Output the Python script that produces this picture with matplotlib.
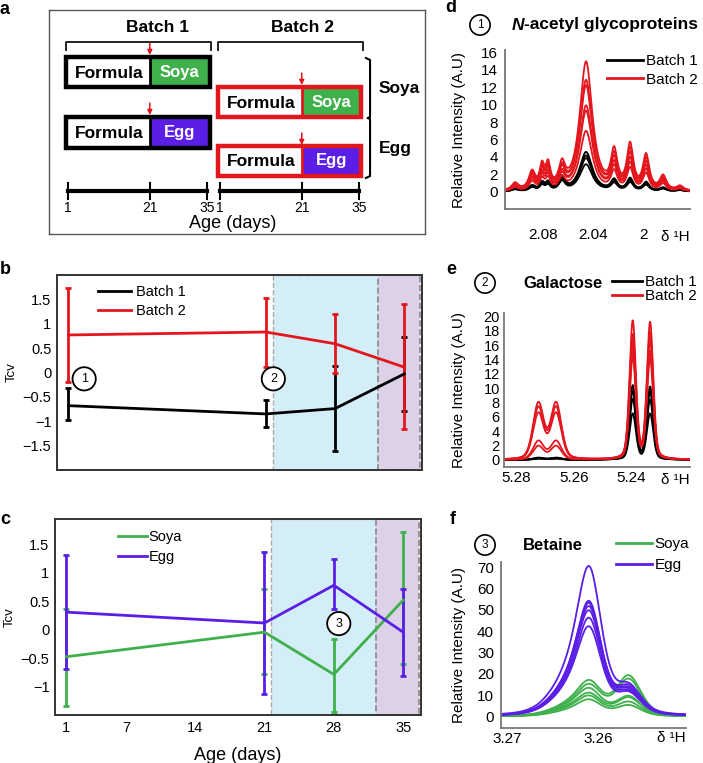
import numpy as np
import matplotlib
matplotlib.use("Agg")
import matplotlib.pyplot as plt
from matplotlib.patches import Rectangle
from matplotlib.lines import Line2D

plt.rcParams['font.family'] = ['Liberation Sans', 'DejaVu Sans']
plt.rcParams['axes.unicode_minus'] = True

W, H = 703, 763
RED = '#e3161d'
GREEN = '#3fb04c'
PURPLE = '#5a1ee6'

# ---- data ----
days = [1, 21, 28, 35]
c_ticks = [1, 7, 14, 21, 28, 35]

batch1_mean = [-0.68, -0.85, -0.74, -0.03]
batch1_lo = [-0.98, -1.12, -1.62, -0.78]
batch1_hi = [-0.31, -0.57, 0.13, 0.73]
batch2_mean = [0.77, 0.83, 0.59, 0.11]
batch2_lo = [-0.20, 0.11, -0.01, -1.16]
batch2_hi = [1.73, 1.52, 1.21, 1.40]

soya_mean = [-0.47, -0.04, -0.78, 0.52]
soya_lo = [-1.34, -0.78, -1.44, -0.59]
soya_hi = [0.37, 0.71, -0.16, 1.72]
egg_mean = [0.31, 0.12, 0.78, -0.04]
egg_lo = [-0.69, -1.13, 0.36, -0.81]
egg_hi = [1.31, 1.37, 1.24, 0.71]

diet_window = [21.7, 32.3]
late_window = [32.3, 36.6]

# spectra: peak centres (ppm), half widths, heights per spectrum
d_centers = [2.102, 2.0885, 2.0806, 2.0758, 2.0647, 2.0456, 2.0233, 2.0106, 1.9979, 1.9844, 1.971]
d_hwhm = [0.003, 0.003, 0.0022, 0.0022, 0.003, 0.006, 0.003, 0.003, 0.003, 0.003, 0.003]
d_batch2_side = [0.8, 2.0, 2.5, 2.6, 2.5, 0.0, 4.1, 5.0, 3.9, 1.6, 0.5]
d_batch2_main = [14.8, 12.7, 12.1, 9.8, 9.2, 6.9]
d_batch2_scale = [1.0, 0.9, 0.8, 0.7, 0.6, 0.5]
d_batch1_side = [0.3, 0.6, 0.9, 0.9, 1.5, 0.0, 1.2, 1.4, 1.0, 0.4, 0.2]
d_batch1_main = [4.5, 4.1, 3.8, 3.1]
d_batch1_scale = [1.0, 0.9, 0.8, 0.7]

e_centers = [5.2722, 5.2661, 5.2396, 5.2336]
e_hwhm = [0.0022, 0.0022, 0.0013, 0.0013]
e_batch2 = [[7.8, 7.8, 19.2, 19.0], [7.2, 7.2, 17.3, 17.6], [6.4, 6.4, 16.2, 16.4],
            [2.6, 2.6, 15.2, 15.0], [1.9, 1.9, 14.2, 14.0]]
e_batch1 = [[0.3, 0.3, 10.3, 10.1], [0.25, 0.25, 9.5, 9.4], [0.2, 0.2, 8.4, 8.3], [0.15, 0.15, 6.4, 6.4]]

f_centers = [3.2635, 3.2610, 3.2567]
f_hwhm = [0.0022, 0.0016, 0.0016]
f_egg = [[14, 64, 12], [11, 49, 11], [11, 48, 12], [10, 47, 10.5], [10, 45, 11], [9, 42, 10], [9, 38, 9.5]]
f_soya = [[4, 14.5, 18.5], [3.5, 13, 17], [3.5, 11.5, 9], [3, 9.5, 8.5], [2.5, 8.5, 6.5], [2, 7, 5]]


def voigt(x, centers, hwhm, heights, eta=0.6):
    y = np.zeros_like(x)
    for c, w, h in zip(centers, hwhm, heights):
        lor = 1.0 / (1 + ((x - c) / w) ** 2)
        gau = np.exp(-np.log(2) * ((x - c) / w) ** 2)
        y += h * (eta * lor + (1 - eta) * gau)
    return y


fig = plt.figure(figsize=(W / 100, H / 100), dpi=100)


def px_axes(l, t, r, b):
    return fig.add_axes([l / W, 1 - b / H, (r - l) / W, (b - t) / H])


def ftxt(x, y, s, **kw):
    return fig.text(x / W, 1 - y / H, s, **kw)


# ---------------- panel a ----------------
ax = px_axes(49, 10, 425, 234)
ax.set_xlim(-3.65, 88.3)
ax.set_ylim(224, 0)
ax.set_xticks([])
ax.set_yticks([])
for s in ax.spines.values():
    s.set_color('#555555')
    s.set_linewidth(1)

off2 = 37.16
ax.text(23.0, 17, 'Batch 1', ha='center', va='center', fontsize=12.5, fontweight='bold')
ax.text(21.3 + off2, 17, 'Batch 2', ha='center', va='center', fontsize=12.5, fontweight='bold')
for o in [0, off2]:
    ax.plot([0.5 + o, 0.5 + o, 36 + o, 36 + o], [40, 32, 32, 40], color='#222222', lw=1.4)

rows = [(0, 47, 77, GREEN, 'Soya', 'black', 33),
        (0, 107, 138, PURPLE, 'Egg', 'black', 93),
        (off2, 77, 107, GREEN, 'Soya', RED, 63),
        (off2, 136, 166, PURPLE, 'Egg', RED, 123)]
for o, y0, y1, col, lab, edge, ya in rows:
    ax.add_patch(Rectangle((21 + o, y0), 35.6 - 21, y1 - y0, facecolor=col, edgecolor='none'))
    ax.add_patch(Rectangle((0.6 + o, y0), 35.0, y1 - y0, facecolor='none', edgecolor=edge, lw=3.2))
    ax.plot([21 + o, 21 + o], [y0, y1], color=edge, lw=2)
    ax.text(11 + o, (y0 + y1) / 2 + 1, 'Formula', ha='center', va='center', fontsize=12.5, fontweight='bold')
    ax.text(28.3 + o, (y0 + y1) / 2, lab, ha='center', va='center', fontsize=12, fontweight='bold', color='white')
    ax.annotate('', xy=(21 + o, ya + 12), xytext=(21 + o, ya),
                arrowprops=dict(arrowstyle='-|>', color=RED, lw=1.1, mutation_scale=7, shrinkA=0, shrinkB=0))

for o in [0, off2]:
    ax.plot([1 + o, 35 + o], [181, 181], color='black', lw=3)
    for d in [1, 21, 35]:
        ax.plot([d + o, d + o], [173, 189], color='black', lw=1.5)
        ax.text(d + o, 198, str(d), ha='center', va='center', fontsize=10)
ax.text(41.3, 213, 'Age (days)', ha='center', va='center', fontsize=13)

bx = 37.7 + off2
ax.plot([bx - 1, bx, bx, bx - 0.6, bx, bx, bx - 1], [48, 50, 107, 108, 109, 166, 168], color='black', lw=1.5)
ax.text(39.8 + off2, 78, 'Soya', ha='left', va='center', fontsize=12.5, fontweight='bold')
ax.text(39.8 + off2, 138, 'Egg', ha='left', va='center', fontsize=12.5, fontweight='bold')


# ---------------- panels b and c ----------------
def tcv_axes(ax, ylim, yticks):
    ax.set_xlim(-0.15, 36.8)
    ax.set_ylim(*ylim)
    ax.axvspan(*diet_window, facecolor='#d4eef8', edgecolor='#aaaaaa', ls='--', lw=1, zorder=0)
    ax.axvspan(late_window[0], late_window[1], facecolor='#dcd1e6', edgecolor='#8a8a8a', ls='--', lw=1.2, zorder=0)
    ax.set_yticks(yticks)
    ax.set_yticklabels([('\u2212' if v < 0 else '') + ('%g' % abs(v)) for v in yticks])
    ax.tick_params(length=0, labelsize=10.5, pad=4)
    for s in ax.spines.values():
        s.set_color('#333333')
        s.set_linewidth(1.4)
    ax.set_ylabel('Tcv', fontsize=9.5, va='center')
    ax.yaxis.set_label_coords(-0.123, 0.5)


def errs(mean, lo, hi):
    m = np.array(mean)
    return [m - np.array(lo), np.array(hi) - m]


eb = dict(lw=2, elinewidth=2, capsize=2.5, capthick=2)

axb = px_axes(57, 275, 422, 470)
tcv_axes(axb, (-2.0, 2.0), [1.5, 1, 0.5, 0, -0.5, -1, -1.5])
axb.set_xticks([])
axb.errorbar(days, batch1_mean, yerr=errs(batch1_mean, batch1_lo, batch1_hi), color='black', **eb)
axb.errorbar(days, batch2_mean, yerr=errs(batch2_mean, batch2_lo, batch2_hi), color=RED, **eb)
axb.legend(handles=[Line2D([], [], color='black', lw=2, label='Batch 1'),
                    Line2D([], [], color=RED, lw=2, label='Batch 2')],
           loc='upper left', bbox_to_anchor=(0.112, 0.95), frameon=False, fontsize=10.5,
           handlelength=2.3, handletextpad=0.3, labelspacing=0.35, borderpad=0, borderaxespad=0)
circ = dict(boxstyle='circle,pad=0.45', fc='white', ec='black', lw=1.3)
axb.text(2.6, -0.13, '1', ha='center', va='center', fontsize=9, bbox=circ)
axb.text(21.75, -0.13, '2', ha='center', va='center', fontsize=9, bbox=circ)

axc = px_axes(55, 519, 421, 715)
tcv_axes(axc, (-1.49, 1.94), [1.5, 1, 0.5, 0, -0.5, -1])
axc.set_xticks(c_ticks)
axc.errorbar(days, soya_mean, yerr=errs(soya_mean, soya_lo, soya_hi), color=GREEN, **eb)
axc.errorbar(days, egg_mean, yerr=errs(egg_mean, egg_lo, egg_hi), color=PURPLE, **eb)
axc.legend(handles=[Line2D([], [], color=GREEN, lw=2, label='Soya'),
                    Line2D([], [], color=PURPLE, lw=2, label='Egg')],
           loc='upper left', bbox_to_anchor=(0.172, 0.945), frameon=False, fontsize=10.5,
           handlelength=2.0, handletextpad=0.1, labelspacing=0.45, borderpad=0, borderaxespad=0)
axc.text(28.5, 0.11, '3', ha='center', va='center', fontsize=9, bbox=circ)
axc.set_xlabel('Age (days)', fontsize=13, labelpad=9)


# ---------------- spectra d, e, f ----------------
def spec_axes(l, t, r, b, xlim, ylim, xticks, xlabels, yticks, xpad, ypad, ysize):
    ax = px_axes(l, t, r, b)
    ax.set_xlim(*xlim)
    ax.set_ylim(*ylim)
    ax.set_xticks(xticks)
    ax.set_xticklabels(xlabels)
    ax.set_yticks(yticks)
    ax.tick_params(axis='x', length=0, labelsize=11, pad=xpad)
    ax.tick_params(axis='y', length=0, labelsize=ysize, pad=ypad)
    for s in ['top', 'right']:
        ax.spines[s].set_visible(False)
    for s in ['left', 'bottom']:
        ax.spines[s].set_color('#777777')
        ax.spines[s].set_linewidth(1.3)
    ax.set_ylabel('Relative Intensity (A.U)', fontsize=11, va='center')
    ax.yaxis.set_label_coords(-(l - 459) / (r - l), 0.5)
    return ax


lg = dict(frameon=False, fontsize=11, handletextpad=0.15, borderpad=0, borderaxespad=0)
small_circ = dict(boxstyle='circle,pad=0.35', fc='white', ec='black', lw=1.2)

# d
axd = spec_axes(505, 50, 690, 209, (2.110, 1.963), (-2, 16.3), [2.08, 2.04, 2.0], ['2.08', '2.04', '2'],
                list(range(0, 17, 2)), 14, 5, 11)
xd = np.linspace(2.110, 1.963, 800)
for k in range(len(d_batch1_main)):
    h = [v * d_batch1_scale[k] for v in d_batch1_side]
    h[5] = d_batch1_main[k]
    axd.plot(xd, voigt(xd, d_centers, d_hwhm, h, 0.85), color='black', lw=1.3)
for k in range(len(d_batch2_main)):
    h = [v * d_batch2_scale[k] for v in d_batch2_side]
    h[5] = d_batch2_main[k]
    axd.plot(xd, voigt(xd, d_centers, d_hwhm, h, 0.85), color=RED, lw=1.3)
axd.legend(handles=[Line2D([], [], color='black', lw=2, label='Batch 1'),
                    Line2D([], [], color=RED, lw=2, label='Batch 2')],
           loc='upper left', bbox_to_anchor=(0.55, 0.975), labelspacing=0.3, handlelength=2.4, **lg)
ftxt(675, 237, 'δ ¹H', ha='center', va='center', fontsize=11)
ftxt(480, 25, '1', ha='center', va='center', fontsize=8.5, bbox=small_circ)
tn = ftxt(512, 25, 'N', ha='left', va='center', fontsize=12.5, fontweight='bold', style='italic')
axd.annotate('-acetyl glycoproteins', xy=(1, 0.5), xycoords=tn, ha='left', va='center', fontsize=12.5, fontweight='bold')

# e
axe = spec_axes(504, 313, 690, 467, (5.2841, 5.2198), (-1, 20.5), [5.28, 5.26, 5.24], ['5.28', '5.26', '5.24'],
                list(range(0, 21, 2)), 3, 3, 10.5)
xe = np.linspace(5.2841, 5.2198, 900)
for h in e_batch1:
    axe.plot(xe, voigt(xe, e_centers, e_hwhm, h, 0.3), color='black', lw=1.3)
for h in e_batch2:
    axe.plot(xe, voigt(xe, e_centers, e_hwhm, h, 0.3), color=RED, lw=1.3)
axe.legend(handles=[Line2D([], [], color='black', lw=2, label='Batch 1'),
                    Line2D([], [], color=RED, lw=2, label='Batch 2')],
           loc='upper left', bbox_to_anchor=(0.58, 1.245), labelspacing=0.0, handlelength=2.0, **lg)
ftxt(675, 480, 'δ ¹H', ha='center', va='center', fontsize=11)
ftxt(485, 283, '2', ha='center', va='center', fontsize=8.5, bbox=small_circ)
ftxt(523, 283, 'Galactose', ha='left', va='center', fontsize=12, fontweight='bold')

# f
axf = spec_axes(501, 562, 686, 728, (3.2707, 3.2504), (-5.4, 72.5), [3.27, 3.26], ['3.27', '3.26'],
                list(range(0, 71, 10)), 3, 5, 11)
xf = np.linspace(3.2707, 3.2504, 900)
for h in f_soya:
    axf.plot(xf, voigt(xf, f_centers, f_hwhm, h, 0.4), color=GREEN, lw=1.3)
for h in f_egg:
    axf.plot(xf, voigt(xf, f_centers, f_hwhm, h, 0.4), color=PURPLE, lw=1.3)
axf.legend(handles=[Line2D([], [], color=GREEN, lw=2, label='Soya'),
                    Line2D([], [], color=PURPLE, lw=2, label='Egg')],
           loc='upper left', bbox_to_anchor=(0.62, 1.15), labelspacing=0.45, handlelength=2.4, **lg)
ftxt(671, 738, 'δ ¹H', ha='center', va='center', fontsize=11)
ftxt(485, 545, '3', ha='center', va='center', fontsize=8.5, bbox=small_circ)
ftxt(523, 545, 'Betaine', ha='left', va='center', fontsize=12, fontweight='bold')

# panel letters
for x, y, s in [(5, 10, 'a'), (5, 269, 'b'), (5, 520, 'c'), (451, 8, 'd'), (451, 270, 'e'), (453, 519, 'f')]:
    ftxt(x, y, s, ha='center', va='center', fontsize=13, fontweight='bold')

fig.savefig('out.png', dpi=100)
